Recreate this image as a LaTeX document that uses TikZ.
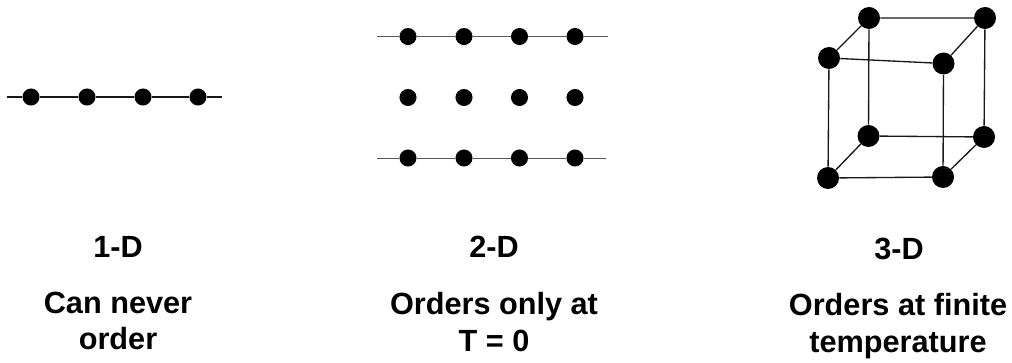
\documentclass[tikz,border=0pt]{standalone}
\usepackage{fontspec}
\setmainfont{Liberation Sans}
\usepackage{xcolor}
\usetikzlibrary{positioning}

\begin{document}
\begin{tikzpicture}[
  x=0.75pt, y=-0.75pt,
  site/.style={circle, fill=black, inner sep=0pt, minimum size=12.8pt},
  bigsite/.style={circle, fill=black, inner sep=0pt, minimum size=16.5pt},
  caption/.style={align=center, font=\bfseries\fontsize{23}{27.5}\selectfont, inner sep=0pt},
  bond/.style={draw=black!90, line width=1pt},
  thin bond/.style={draw=black!65, line width=0.6pt}
]
\useasboundingbox (0,0) rectangle (1012,363);

% 1-D chain
\coordinate (chainL) at (7,97);
\coordinate (chainR) at (222,97);
\node[site] (a1) at (31,97) {};
\node[site] (a2) at (87,97) {};
\node[site] (a3) at (143,97) {};
\node[site] (a4) at (198,97) {};
\draw[bond] (chainL) -- (a1) -- (a2) -- (a3) -- (a4) -- (chainR);

% 2-D lattice
\coordinate (topL) at (377,36.5);
\coordinate (topR) at (608,36.5);
\coordinate (botL) at (377,158);
\coordinate (botR) at (606,158);
\node[site] (b1) at (408,36.5) {};
\node[site] (b2) at (464,36.5) {};
\node[site] (b3) at (519.5,36.5) {};
\node[site] (b4) at (575,36.5) {};
\node[site] (c1) at (408,97.5) {};
\node[site] (c2) at (464,97.5) {};
\node[site] (c3) at (519.5,97.5) {};
\node[site] (c4) at (575,97.5) {};
\node[site] (d1) at (408,158) {};
\node[site] (d2) at (464,158) {};
\node[site] (d3) at (519.5,158) {};
\node[site] (d4) at (575,158) {};
\draw[thin bond] (topL) -- (b1) -- (b2) -- (b3) -- (b4) -- (topR);
\draw[thin bond] (botL) -- (d1) -- (d2) -- (d3) -- (d4) -- (botR);

% 3-D cube
\node[bigsite] (btl) at (869,18) {};
\node[bigsite] (btr) at (985,18) {};
\node[bigsite] (ftl) at (829,58) {};
\node[bigsite] (ftr) at (943.5,63.5) {};
\node[bigsite] (bbl) at (868.5,136) {};
\node[bigsite] (bbr) at (984,137) {};
\node[bigsite] (fbl) at (828,178) {};
\node[bigsite] (fbr) at (943,177) {};
\draw[bond] (btl) -- (btr) -- (bbr) -- (bbl) -- (btl);
\draw[bond] (ftl) -- (ftr) -- (fbr) -- (fbl) -- (ftl);
\draw[bond] (btl) -- (ftl);
\draw[bond] (btr) -- (ftr);
\draw[bond] (bbl) -- (fbl);
\draw[bond] (bbr) -- (fbr);

% captions
\node[caption] (dim1) at (118,247) {1-D};
\node[caption] (dim2) at (494,247) {2-D};
\node[caption] (dim3) at (899,248.5) {3-D};
\node[caption] (text1) at (118,321) {Can never\\order};
\node[caption] (text2) at (494,322) {Orders only at\\T = 0};
\node[caption] (text3) at (898,326) {Orders at finite\\temperature};
\end{tikzpicture}
\end{document}
